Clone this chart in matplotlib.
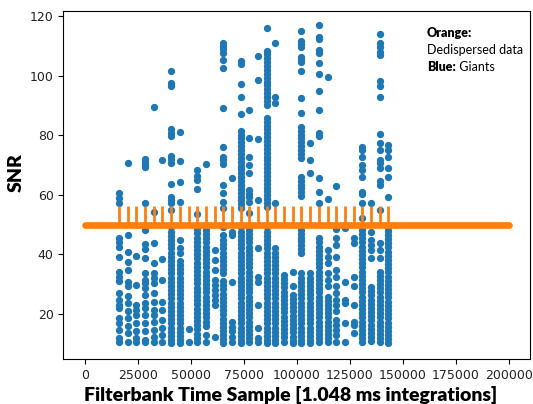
import numpy as np
import matplotlib.pyplot as plt

# sample index of each block that was searched (32 blocks)
block_x = [16200, 20290, 24380, 28480, 32570, 36670, 40760, 44850,
           48940, 53040, 57130, 61220, 65320, 69410, 73500, 77600,
           81690, 85780, 89870, 93970, 98060, 102150, 106250, 110340,
           114430, 118530, 122620, 126710, 130800, 134900, 138990, 143080]

# SNR of the giant pulses found in each block
giant_snr = [
    [60.5, 58.8, 57.3, 45.6, 44.0, 42.6, 39.2, 34.2, 32.5, 31.2, 26.9, 24.7, 23.0, 21.9, 18.5, 16.9, 14.6, 11.8, 10.4],
    [70.5, 46.5, 40.9, 37.5, 34.8, 30.8, 29.2, 26.0, 23.6, 20.8, 18.5, 16.0, 13.5, 10.7],
    [39.4, 29.7, 23.0, 21.3, 19.6, 16.9, 14.1, 11.8, 10.4],
    [72.0, 71.1, 70.0, 69.2, 57.3, 48.2, 43.4, 41.7, 38.7, 33.6, 31.4, 30.3, 28.6, 26.4, 23.6, 21.9, 19.6, 16.9, 14.4, 11.3, 10.4],
    [89.3, 54.2, 43.7, 37.0, 33.6, 32.0, 30.3, 27.0, 24.1, 21.3, 19.6, 17.4, 14.6, 12.4, 10.4],
    [71.7, 38.3, 31.4, 24.1, 21.3, 18.0, 15.2, 13.0, 10.4],
    [101.5, 97.6, 96.5, 82.0, 80.8, 79.7, 73.0, 71.9, 70.8, 63.6, 59.4, 58.2, 57.3, 55.0, 49.0, 47.6, 46.2,
     44.8, 43.4, 42.0, 40.6, 39.2, 37.8, 36.4, 35.0, 33.6, 32.2, 30.8, 29.4, 28.0, 26.6, 25.2, 23.8, 22.4,
     21.0, 19.6, 18.2, 16.8, 15.4, 14.0, 12.6, 11.2, 10.2],
    [81.2, 71.3, 64.1, 57.7, 44.8, 42.0, 40.3, 37.8, 36.4, 35.0, 33.6, 32.2, 30.8, 29.4, 28.0, 26.6, 25.2,
     23.8, 22.4, 21.0, 19.6, 18.2, 16.8, 15.4, 14.0, 12.6, 11.2, 10.2],
    [14.8, 10.4],
    [68.3, 66.4, 64.9, 61.8, 53.5, 48.4, 47.0, 45.6, 44.2, 42.8, 41.4, 40.0, 38.6, 37.2, 35.8, 34.4, 33.0,
     31.6, 30.2, 28.8, 27.4, 26.0, 24.6, 23.2, 21.8, 20.4, 19.0, 17.6, 16.2, 14.8, 13.4, 12.0, 10.6],
    [70.2, 48.2, 46.8, 45.4, 44.0, 42.6, 41.2, 39.8, 38.4, 37.0, 35.6, 34.2, 32.8, 31.4, 30.0, 28.6, 27.2,
     25.8, 24.4, 23.0, 21.6, 20.2, 18.8, 17.4, 16.0, 13.0, 10.4],
    [41.5, 38.1, 34.8, 31.4, 29.7, 28.0, 26.4, 24.7, 23.0, 12.4],
    [111.0, 109.9, 108.8, 107.7, 105.2, 102.4, 89.0, 75.9, 72.8, 71.7, 70.3, 63.3, 60.5, 57.7, 55.5, 49.3,
     46.5, 44.8, 43.4, 42.0, 40.6, 39.2, 37.8, 36.4, 35.0, 33.6, 31.0, 29.6, 28.2, 26.8, 25.4, 24.0, 22.6,
     21.2, 19.8, 18.4, 17.0, 15.6, 14.2, 12.8, 11.4, 10.2],
    [65.5, 47.6, 46.5, 30.7, 17.4, 15.7, 14.1, 12.4, 10.4],
    [105.0, 103.9, 97.2, 92.9, 87.0, 81.5, 80.2, 78.9, 77.6, 76.3, 75.0, 73.7, 72.4, 71.1, 69.8, 68.5, 67.2,
     65.9, 64.6, 63.3, 62.0, 60.7, 59.4, 58.1, 56.8, 55.5, 49.0, 47.6, 46.2, 44.8, 43.4, 42.0, 40.6, 39.2,
     37.8, 36.4, 35.0, 33.6, 32.2, 30.8, 29.4, 28.0, 26.6, 25.2, 23.8, 22.4, 21.0, 19.6, 18.2, 16.8, 15.4,
     14.0, 12.6, 11.2, 10.2],
    [88.4, 78.9, 72.8, 70.0, 67.4, 61.6, 60.3, 59.2, 57.7, 53.8, 49.6, 48.2, 46.8, 45.4, 44.0, 42.6, 41.2,
     39.8, 38.4, 37.0, 35.6, 34.2, 32.8, 31.4, 30.0, 28.6, 27.2, 25.8, 24.4, 23.0, 21.6, 20.2, 18.8, 17.4,
     16.0, 14.6, 13.2, 11.8, 10.4],
    [106.6, 98.5, 78.6, 58.3, 42.2, 32.5, 30.8, 23.0, 15.2, 11.8, 10.7],
    [115.8, 108.4, 107.1, 105.8, 104.5, 103.2, 101.9, 100.6, 99.3, 98.0, 96.7, 95.4, 94.1, 92.8, 91.5, 90.2,
     85.8, 84.5, 83.2, 81.9, 80.6, 79.3, 78.0, 76.7, 75.4, 74.1, 72.8, 71.5, 70.2, 68.9, 67.6, 66.3, 65.0,
     63.7, 62.4, 61.1, 59.8, 58.5, 57.2, 55.9, 49.0, 47.6, 46.2, 44.8, 43.4, 42.0, 40.6, 39.2, 37.8, 36.4,
     35.0, 33.6, 32.2, 30.8, 29.4, 28.0, 26.6, 25.2, 23.8, 22.4, 21.0, 19.6, 18.2, 16.8, 15.4, 14.0, 12.6,
     11.2, 10.2],
    [111.0, 92.7, 90.7, 57.1, 42.0, 40.6, 39.2, 37.8, 36.4, 35.0, 33.6, 32.2, 30.8, 29.4, 28.0, 26.6, 25.2,
     23.8, 22.4, 21.0, 19.6, 18.2, 16.8, 15.4, 14.0, 12.6, 11.2, 10.2],
    [33.1, 31.7, 30.3, 28.9, 27.5, 26.1, 24.7, 23.3, 21.9, 20.5, 19.1, 17.7, 16.3, 14.9, 13.5, 12.1, 10.7],
    [34.2, 29.2, 26.4, 25.0, 23.6, 22.2, 20.8, 19.4, 18.0, 16.6, 15.2, 13.8, 12.4, 11.0, 10.2],
    [115.1, 111.7, 110.6, 109.5, 106.1, 105.2, 104.4, 101.5, 92.6, 87.5, 82.8, 81.5, 80.2, 78.9, 77.6, 76.3,
     75.0, 73.7, 72.4, 66.0, 64.7, 63.4, 62.1, 60.8, 59.5, 48.2, 46.9, 45.6, 44.3, 43.0, 41.7, 40.4, 33.6,
     32.2, 30.8, 29.4, 28.0, 26.6, 25.2, 23.8, 22.4, 21.0, 19.6, 18.2, 16.8, 15.4, 14.0, 12.6, 11.2, 10.2],
    [77.3, 71.7, 67.2, 33.6, 32.2, 30.8, 29.4, 28.0, 26.6, 25.2, 23.8, 22.4, 21.0, 19.6, 18.2, 16.8, 15.4,
     14.0, 12.6, 11.2, 10.2],
    [117.0, 113.1, 112.2, 108.6, 107.7, 104.3, 100.4, 94.8, 88.4, 80.8, 79.7, 65.5, 61.0, 57.1, 45.4, 44.0,
     42.6, 41.2, 39.8, 38.4, 37.0, 35.6, 34.2, 32.8, 31.4, 30.0, 28.6, 27.2, 25.8, 24.4, 23.0, 21.6, 20.2,
     18.8, 17.4, 16.0, 14.6, 13.2, 11.8, 10.4],
    [99.6, 58.5, 41.5, 39.2, 37.0, 33.6, 31.4, 29.2, 25.8, 24.4, 23.0, 21.6, 20.2, 18.8, 17.4, 16.0, 14.6,
     13.2, 11.8, 10.4],
    [62.9, 48.4, 45.6, 43.1, 39.2, 34.8, 32.5, 29.2, 26.9, 24.7, 23.0, 20.8, 18.0, 16.3, 14.6, 12.9, 10.4],
    [48.7, 30.8, 24.7, 23.6, 16.9, 10.4],
    [45.4, 43.7, 32.5, 29.2, 23.0, 17.4, 16.3, 13.7],
    [76.1, 75.0, 72.8, 70.0, 68.3, 66.1, 61.0, 60.3, 57.1, 52.1, 48.2, 46.8, 45.4, 44.0, 42.6, 41.2, 39.8,
     38.4, 37.0, 35.6, 34.2, 32.8, 31.4, 30.0, 28.6, 27.2, 25.8, 24.4, 23.0, 21.6, 20.2, 18.8, 17.4, 16.0,
     14.6, 13.2, 11.8, 10.4],
    [57.3, 47.6, 44.8, 43.1, 41.5, 38.7, 29.0, 27.6, 26.2, 24.8, 23.4, 22.0, 20.6, 19.2, 17.8, 16.4, 15.0,
     13.6, 12.2, 10.8],
    [113.8, 110.8, 109.7, 108.0, 106.9, 98.3, 96.5, 92.7, 80.3, 77.3, 75.0, 71.7, 70.5, 68.9, 64.7, 63.3,
     54.9, 43.7, 41.5, 38.7, 34.2, 32.8, 31.4, 30.0, 28.6, 27.2, 25.8, 24.4, 23.0, 21.6, 20.2, 18.8, 17.4,
     16.0, 14.6, 13.2, 11.8, 10.4],
    [76.7, 75.0, 72.8, 68.9, 66.1, 59.4, 49.3, 47.9, 46.5, 45.1, 43.7, 42.3, 40.9, 39.5, 38.1, 36.7, 35.3,
     33.9, 32.5, 31.1, 29.7, 28.3, 26.9, 25.5, 24.1, 22.7, 21.3, 19.9, 18.5, 17.1, 15.7, 14.3, 12.9, 11.5,
     10.2],
]

# dedispersed time series: flat level with a pulse at the start of every block
dd_span = [0, 200000]
dd_level = 50.0
dd_pulse_x = block_x
dd_pulse_snr = 56.2

gx = np.concatenate([[x] * len(s) for x, s in zip(block_x, giant_snr)])
gy = np.concatenate(giant_snr)

fig = plt.figure(figsize=(5.33, 4.04), dpi=100)
ax = fig.add_axes([0.119, 0.111, 0.876, 0.862])

ax.scatter(gx, gy, s=18, color='#1f77b4', zorder=2)
ax.plot(dd_span, [dd_level, dd_level], color='#ff7f0e', lw=4.8,
        solid_capstyle='round', zorder=3)
ax.vlines(dd_pulse_x, dd_level, dd_pulse_snr, color='#ff7f0e', lw=2.0, zorder=3)

ax.set_xlim(-10000, 210000)
ax.set_ylim(4.8, 121.7)
ax.set_xticks([0, 25000, 50000, 75000, 100000, 125000, 150000, 175000, 200000])
ax.set_yticks([20, 40, 60, 80, 100, 120])
ax.tick_params(labelsize=9, labelcolor='#222222')

lab_font = dict(family='Lato', weight='heavy', size=14)
ax.set_xlabel('Filterbank Time Sample [1.048 ms integrations]', **lab_font)
ax.set_ylabel('SNR', **lab_font)
ax.xaxis.set_label_coords(0.486, -0.077)
ax.yaxis.set_label_coords(-0.082, 0.536)

key = dict(family='Lato', size=9)
fig.text(0.801, 0.918, 'Orange:', weight='heavy', va='center', **key)
fig.text(0.801, 0.876, 'Dedispersed data', va='center', **key)
t = fig.text(0.801, 0.834, 'Blue:', weight='heavy', va='center', **key)
ax.annotate(' Giants', xy=(1, 0.5), xycoords=t, va='center', **key)

fig.savefig('out.png', dpi=100)
